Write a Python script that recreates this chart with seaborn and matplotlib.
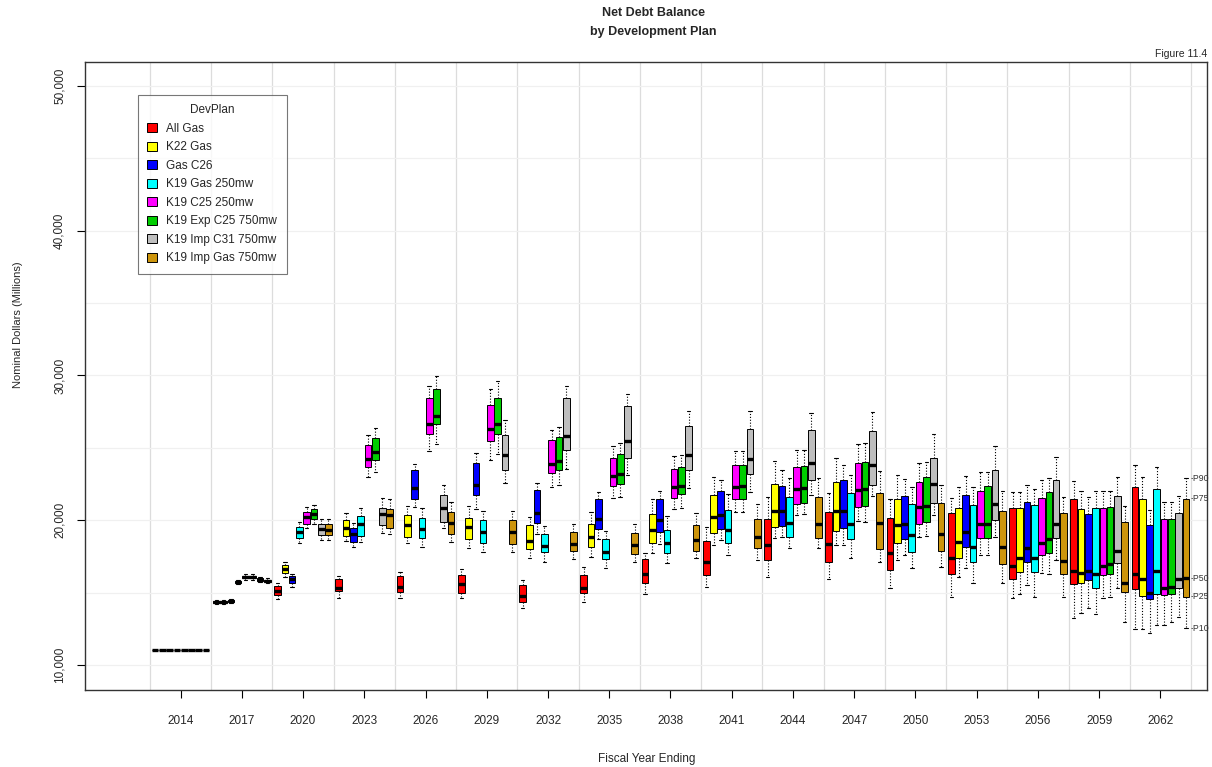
import numpy as np
import pandas as pd
import matplotlib
matplotlib.use("Agg")
import matplotlib.pyplot as plt
from matplotlib.patches import Patch
import seaborn as sns

years = [2014, 2017, 2020, 2023, 2026, 2029, 2032, 2035, 2038,
         2041, 2044, 2047, 2050, 2053, 2056, 2059, 2062]
plans = ["All Gas", "K22 Gas", "Gas C26", "K19 Gas 250mw", "K19 C25 250mw",
         "K19 Exp C25 750mw", "K19 Imp C31 750mw", "K19 Imp Gas 750mw"]
colors = ["#FF0000", "#FFFF00", "#0000FF", "#00FFFF", "#FF00FF",
          "#00CD00", "#BEBEBE", "#CD950C"]

# percentiles per year (rows) and plan (columns)
p10 = [
    [11000, 11000, 11000, 11000, 11000, 11000, 11000, 11000],
    [14200, 14220, 14300, 15600, 15900, 15900, 15720, 15650],
    [14550, 16090, 15400, 18390, 19430, 19720, 18620, 18600],
    [14620, 18550, 18160, 18500, 22990, 23330, 19120, 19030],
    [14600, 18390, 20930, 18170, 24780, 25240, 19430, 18460],
    [14620, 18100, 20800, 17800, 24190, 24600, 22570, 17800],
    [13910, 17360, 19080, 17120, 22260, 22410, 23570, 17290],
    [14320, 17430, 18670, 16710, 21540, 21610, 23100, 17120],
    [14900, 17740, 18340, 17060, 20740, 20860, 22240, 17360],
    [15360, 18280, 18620, 17590, 20570, 20570, 21950, 17240],
    [16090, 18740, 18850, 18050, 20340, 20460, 21720, 18050],
    [15910, 18280, 18320, 17360, 19950, 19880, 21660, 17120],
    [15290, 17240, 17590, 16670, 18850, 18900, 20340, 16780],
    [14670, 16090, 16670, 15680, 17590, 17590, 18850, 15630],
    [14600, 14900, 15520, 14710, 16320, 16280, 17240, 14710],
    [13220, 13560, 13910, 13520, 14600, 14710, 15290, 12940],
    [12460, 12460, 12190, 12760, 12760, 12990, 13330, 12530],
]
p25 = [
    [11000, 11000, 11000, 11000, 11000, 11000, 11000, 11000],
    [14290, 14300, 14370, 15680, 16000, 16000, 15820, 15740],
    [14830, 16350, 15630, 18740, 19770, 20050, 18970, 18950],
    [15100, 18920, 18500, 18900, 23680, 24140, 19660, 19430],
    [15060, 18860, 21450, 18740, 25980, 26620, 19880, 19030],
    [15000, 18670, 21720, 18390, 25450, 25930, 23450, 18340],
    [14370, 17980, 19810, 17810, 23280, 23500, 24830, 17880],
    [14940, 18160, 19360, 17310, 22360, 22520, 24290, 17660],
    [15630, 18430, 19200, 17710, 21550, 21790, 23450, 17880],
    [16210, 19130, 19360, 18390, 21430, 21480, 23160, 18050],
    [17240, 19540, 19610, 18850, 21100, 21190, 22810, 18800],
    [17120, 19260, 19430, 18670, 20880, 20970, 22410, 17980],
    [16550, 18390, 18670, 17810, 19770, 19880, 21190, 17880],
    [16280, 17360, 18160, 17120, 18740, 18740, 20000, 17000],
    [15910, 16430, 17120, 16430, 17590, 17710, 18740, 16280],
    [15590, 15630, 15860, 15290, 16210, 16280, 17060, 15060],
    [15220, 14760, 14530, 14900, 14830, 14900, 15290, 14710],
]
p50 = [
    [11000, 11000, 11000, 11000, 11000, 11000, 11000, 11000],
    [14350, 14370, 14430, 15750, 16070, 16070, 15900, 15820],
    [15120, 16620, 15910, 19150, 20190, 20460, 19380, 19310],
    [15290, 19470, 19030, 19770, 24260, 24710, 20460, 20350],
    [15360, 19660, 22190, 19380, 26670, 27170, 20860, 19810],
    [15590, 19500, 22410, 19200, 26280, 26670, 24480, 19170],
    [14760, 18570, 20500, 18240, 23910, 24090, 25790, 18340],
    [15290, 18850, 20050, 17810, 23030, 23160, 25450, 18280],
    [16280, 19310, 20000, 18390, 22290, 22340, 24480, 18620],
    [17120, 20230, 20340, 19310, 22290, 22340, 24260, 18850],
    [18280, 20640, 20640, 19810, 22120, 22190, 23950, 19770],
    [18340, 20620, 20620, 19770, 22070, 22120, 23790, 19810],
    [17700, 19660, 19720, 18970, 20920, 20970, 22480, 19030],
    [17360, 18500, 19200, 18160, 19770, 19770, 21150, 18160],
    [16850, 17360, 18050, 17360, 18430, 18670, 19770, 17190],
    [16500, 16320, 16500, 16280, 16830, 16970, 17880, 15630],
    [16280, 15910, 15000, 16500, 15290, 15400, 15910, 15980],
]
p75 = [
    [11000, 11000, 11000, 11000, 11000, 11000, 11000, 11000],
    [14410, 14430, 14500, 15820, 16150, 16150, 15980, 15890],
    [15450, 16900, 16140, 19540, 20590, 20760, 19770, 19750],
    [15930, 20000, 19430, 20280, 25170, 25700, 20860, 20800],
    [16140, 20350, 23450, 20170, 28460, 29060, 21760, 20590],
    [16210, 20170, 23960, 20000, 27980, 28460, 25860, 20000],
    [15520, 19660, 22070, 19030, 25520, 25770, 28460, 19200],
    [16210, 19770, 21430, 18670, 24310, 24550, 27860, 19130],
    [17290, 20410, 21430, 19310, 23570, 23640, 26520, 19660],
    [18570, 21720, 22020, 20690, 23790, 23790, 26300, 20050],
    [20110, 22520, 22340, 21610, 23640, 23720, 26210, 21610],
    [20570, 22640, 22760, 21880, 23960, 24030, 26170, 21880],
    [20180, 21430, 21660, 21100, 22640, 22990, 24310, 21190],
    [20500, 20860, 21720, 21030, 22020, 22380, 23500, 20640],
    [20860, 20860, 21260, 21030, 21550, 21950, 22810, 20500],
    [21430, 20800, 20410, 20860, 20860, 20920, 21660, 19880],
    [22290, 21480, 19660, 22120, 20110, 20110, 20520, 21480],
]
p90 = [
    [11000, 11000, 11000, 11000, 11000, 11000, 11000, 11000],
    [14480, 14500, 14580, 15900, 16250, 16250, 16080, 15980],
    [15650, 17120, 16280, 19860, 20920, 21080, 20070, 20050],
    [16160, 20530, 19810, 20850, 25860, 26400, 21550, 21480],
    [16430, 20970, 23910, 20850, 29240, 29930, 22450, 21260],
    [16600, 20970, 24640, 20620, 29030, 29610, 26900, 20640],
    [15860, 20230, 22600, 19600, 26210, 26440, 29240, 19720],
    [16740, 20570, 21950, 19240, 25130, 25360, 28740, 19720],
    [17710, 21480, 22020, 20280, 24410, 24480, 27540, 20500],
    [19540, 22990, 22760, 21840, 24760, 24780, 27540, 21100],
    [21610, 24090, 23500, 22880, 24830, 24830, 27400, 22880],
    [21880, 24310, 23790, 23100, 25240, 25330, 27470, 23400],
    [21480, 23100, 22830, 22260, 23950, 24030, 25980, 22410],
    [21550, 22290, 23030, 22290, 23330, 23330, 25100, 22020],
    [21950, 21950, 22410, 22120, 22760, 22940, 24370, 21610],
    [22710, 22020, 21610, 22020, 22020, 22020, 22990, 20970],
    [23790, 22990, 20690, 23680, 21260, 21260, 21660, 22880],
]
pct_labels = ["P90", "P75", "P50", "P25", "P10"]

rows = []
for i, yr in enumerate(years):
    for j, plan in enumerate(plans):
        for arr in (p10, p25, p50, p75, p90):
            rows.append({"Year": str(yr), "DevPlan": plan, "Value": arr[i][j]})
df = pd.DataFrame(rows)

sns.set_theme(style="white")
plt.rcParams["font.family"] = ["Liberation Sans", "DejaVu Sans"]

fig = plt.figure(figsize=(12.12, 7.67), dpi=100)
ax = fig.add_axes([85 / 1212, 1 - 690 / 767, (1207 - 85) / 1212, (690 - 62) / 767])

for b in np.arange(-0.5, 17, 1.0):
    ax.axvline(b, color="#DCDCDC", lw=0.9, zorder=0)
for h in np.arange(10000, 50001, 5000):
    ax.axhline(h, color="#F0F0F0", lw=0.9, zorder=0)

sns.boxplot(data=df, x="Year", y="Value", hue="DevPlan",
            order=[str(y) for y in years], hue_order=plans,
            palette=dict(zip(plans, colors)), saturation=1,
            whis=(0, 100), width=0.95, gap=0.08, linewidth=0.7,
            linecolor="black", showfliers=False, legend=False, ax=ax,
            medianprops={"color": "black", "linewidth": 2.4},
            whiskerprops={"color": "black", "linewidth": 0.8,
                          "linestyle": (0, (1, 1.6))},
            capprops={"color": "black", "linewidth": 0.8})

ax.set_xlim(-1.56, 16.76)
ax.set_ylim(8270, 51650)
ax.set_xlabel("")
ax.set_ylabel("")

yt = [10000, 20000, 30000, 40000, 50000]
ax.set_yticks(yt)
ax.set_yticklabels([f"{v:,}" for v in yt], rotation=90, va="center", fontsize=8.5)
ax.set_xticks(range(len(years)))
ax.set_xticklabels([str(y) for y in years], fontsize=8.5)
ax.tick_params(axis="both", which="major", direction="out", length=6,
               width=0.8, color="black", bottom=True, left=True)
ax.tick_params(axis="x", pad=12)
ax.tick_params(axis="y", pad=8)

for s in ax.spines.values():
    s.set_visible(True)
    s.set_color("#333333")
    s.set_linewidth(1.0)

# percentile annotations on the last box
last = [p90[-1][-1], p75[-1][-1], p50[-1][-1], p25[-1][-1], p10[-1][-1]]
for lab, val in zip(pct_labels, last):
    ax.text(16.5, val, "-" + lab, fontsize=6.3, va="center", ha="left",
            color="#333333", clip_on=False)

handles = [Patch(facecolor=c, edgecolor="black", linewidth=0.7) for c in colors]
leg = ax.legend(handles, plans, title="DevPlan", loc="upper left",
                bbox_to_anchor=(0.0472, 0.9475), borderaxespad=0,
                fontsize=8.5, title_fontsize=8.5, frameon=True, fancybox=False,
                handlelength=0.8, handleheight=0.8, handletextpad=0.8,
                labelspacing=0.55, borderpad=0.8)
leg.get_frame().set_edgecolor("#555555")
leg.get_frame().set_linewidth(0.8)

fig.text(653 / 1212, 1 - 13 / 767, "Net Debt Balance", ha="center", va="center",
         fontsize=9, fontweight="bold")
fig.text(653 / 1212, 1 - 32 / 767, "by Development Plan", ha="center", va="center",
         fontsize=9, fontweight="bold")
fig.text(1207 / 1212, 1 - 54 / 767, "Figure 11.4", ha="right", va="center",
         fontsize=7.5)
fig.text(18 / 1212, 1 - 325 / 767, "Nominal Dollars (Millions)", rotation=90,
         ha="center", va="center", fontsize=8)
fig.text(647 / 1212, 1 - 759 / 767, "Fiscal Year Ending", ha="center",
         va="center", fontsize=8.5)

fig.savefig("out.png", dpi=100, facecolor="white")
